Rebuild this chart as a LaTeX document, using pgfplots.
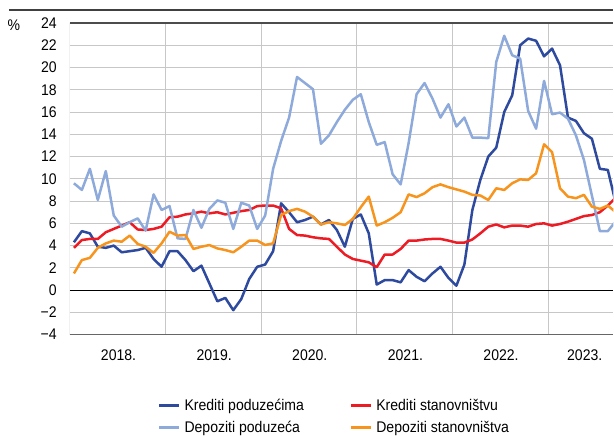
\documentclass[border=0pt]{standalone}
\usepackage{fontspec}
\setmainfont{Liberation Sans}[FakeStretch=0.91]
\usepackage{pgfplots}
\usepackage{pgfplotstable}
\pgfplotsset{compat=1.18}
\definecolor{kp}{RGB}{46,74,158}
\definecolor{dp}{RGB}{142,170,219}
\definecolor{ks}{RGB}{237,28,36}
\definecolor{ds}{RGB}{247,148,29}

\pgfplotstableread{
i kp ks dp ds
0 4.3 3.8 9.6 1.5
1 5.3 4.5 9.0 2.7
2 5.1 4.6 10.9 2.9
3 3.9 4.6 8.1 3.8
4 3.8 5.2 10.7 4.2
5 4.0 5.5 6.7 4.45
6 3.4 5.8 5.7 4.35
7 3.5 6.1 6.1 4.9
8 3.6 5.45 6.45 4.15
9 3.8 5.4 5.35 3.9
10 2.8 5.5 8.6 3.35
11 2.1 5.7 7.2 4.2
12 3.5 6.55 7.55 5.25
13 3.5 6.6 4.65 4.9
14 2.7 6.8 4.6 4.95
15 1.7 6.9 7.2 3.7
16 2.2 7.05 5.6 3.9
17 0.6 6.9 7.3 4.05
18 -1.0 7.0 8.06 3.75
19 -0.7 6.8 7.85 3.6
20 -1.8 6.95 5.5 3.4
21 -0.8 7.1 7.85 3.9
22 1.0 7.2 7.6 4.45
23 2.1 7.55 5.5 4.45
24 2.3 7.6 6.7 4.06
25 3.5 7.6 10.9 4.2
26 7.8 7.35 13.4 6.75
27 7.0 5.5 15.5 7.1
28 6.1 4.95 19.15 7.3
29 6.3 4.9 18.6 7.05
30 6.6 4.75 18.05 6.6
31 5.9 4.65 13.15 5.9
32 6.3 4.6 13.9 6.1
33 5.4 3.9 15.1 6.0
34 3.9 3.2 16.2 5.85
35 6.4 2.8 17.1 6.4
36 6.8 2.65 17.6 7.45
37 5.1 2.5 15.1 8.4
38 0.5 2.06 13.05 5.8
39 0.9 3.2 13.3 6.1
40 0.9 3.2 10.4 6.5
41 0.7 3.7 9.5 7.0
42 1.8 4.45 13.2 8.6
43 1.2 4.45 17.6 8.36
44 0.8 4.55 18.6 8.7
45 1.5 4.6 17.2 9.25
46 2.1 4.6 15.5 9.5
47 1.1 4.45 16.7 9.25
48 0.4 4.27 14.7 9.05
49 2.3 4.27 15.5 8.85
50 7.2 4.55 13.7 8.56
51 9.9 5.1 13.7 8.5
52 12.0 5.7 13.65 8.1
53 12.8 5.9 20.5 9.15
54 16.0 5.64 22.85 9.0
55 17.5 5.8 21.1 9.6
56 22.0 5.8 20.8 9.95
57 22.6 5.7 16.1 9.9
58 22.4 5.94 14.5 10.5
59 21.0 6.0 18.8 13.1
60 21.7 5.8 15.8 12.4
61 20.2 5.94 15.95 9.15
62 15.5 6.15 15.4 8.4
63 15.2 6.4 13.9 8.26
64 14.1 6.65 11.7 8.56
65 13.6 6.75 8.5 7.5
66 10.9 7.0 5.3 7.3
67 10.8 7.6 5.3 7.6
68 7.8 8.3 6.2 7.0
}\data

\begin{document}
\begin{tikzpicture}[font=\fontsize{15.5}{18}\selectfont]
\begin{axis}[
  scale only axis, width=544bp, height=312bp,
  xmin=-0.5, xmax=67.7, ymin=-4, ymax=24,
  axis line style={draw=none},
  xtick={11.5,23.5,35.5,47.5,59.5}, xticklabels={},
  extra x ticks={5.6,17.6,29.6,41.6,53.6,64.1},
  extra x tick labels={2018.,2019.,2020.,2021.,2022.,2023.},
  extra x tick style={grid=none, xticklabel style={anchor=north, inner sep=0pt, yshift=-15bp}},
  ytick={-4,-2,0,2,4,6,8,10,12,14,16,18,20,22,24},
  yticklabels={−4,−2,0,2,4,6,8,10,12,14,16,18,20,22,24},
  yticklabel style={anchor=east, inner sep=0pt, xshift=-13bp},
  major tick length=0pt,
  xmajorgrids, ymajorgrids,
  grid style={line width=1bp, color=black!22},
  no markers,
  every axis plot/.append style={line width=2.5bp, line join=round},
  legend columns=2,
  legend cell align=left,
  legend image code/.code={\draw[#1, line width=2.5bp] (0bp,0bp) -- (20bp,0bp);},
  legend style={at={(axis description cs:0.1618,-0.2)}, anchor=north west,
    draw=none, fill=none, inner sep=0pt, row sep=5bp,
    /tikz/column 1/.style={column sep=2bp},
    /tikz/column 2/.style={column sep=44bp},
    /tikz/column 3/.style={column sep=2bp}},
]
\draw[black!45, line width=1bp] (rel axis cs:0,0) -- (rel axis cs:0,1);
\draw[black!60, line width=1.2bp] (rel axis cs:0,0) -- (rel axis cs:1,0);
\draw[black!70, line width=1.2bp] (rel axis cs:0,1) -- (rel axis cs:1,1);
\draw[black, line width=1bp] (axis cs:-0.5,0) -- (axis cs:67.7,0);
\addplot[kp] table[x=i,y=kp]{\data};
\addlegendentry{Krediti poduzećima}
\addplot[ks] table[x=i,y=ks]{\data};
\addlegendentry{Krediti stanovništvu}
\addplot[dp] table[x=i,y=dp]{\data};
\addlegendentry{Depoziti poduzeća}
\addplot[ds] table[x=i,y=ds]{\data};
\addlegendentry{Depoziti stanovništva}
\end{axis}
\draw[black!75, line width=1.2bp] ([xshift=-61bp,yshift=13bp]current axis.north west) -- ([yshift=13bp]current axis.north east);
\node[anchor=center] at ([xshift=-56bp,yshift=-2bp]current axis.north west) {\%};
\path[use as bounding box] ([xshift=-70bp,yshift=23bp]current axis.north west) rectangle ([yshift=-101bp]current axis.south east);
\end{tikzpicture}
\end{document}
